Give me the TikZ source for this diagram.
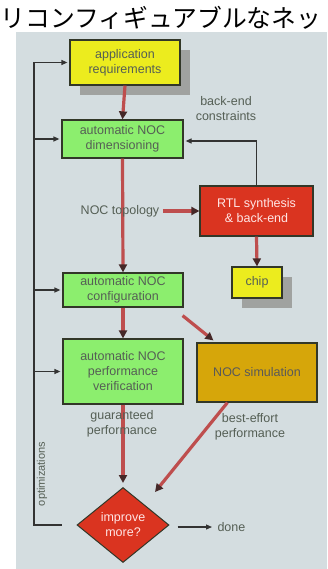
\documentclass[tikz,border=0pt]{standalone}
\usepackage{fontspec}
\setmainfont{Liberation Sans}
\newfontfamily\jpfont{Noto Sans CJK JP}
\usetikzlibrary{arrows.meta,shapes.geometric,shadows,calc}
\definecolor{slidebg}{RGB}{212,221,224}
\definecolor{boxyellow}{RGB}{236,236,30}
\definecolor{boxgreen}{RGB}{140,238,110}
\definecolor{boxred}{RGB}{218,52,32}
\definecolor{boxorange}{RGB}{214,166,10}
\definecolor{boxedge}{RGB}{50,55,40}
\definecolor{arrowred}{RGB}{190,78,78}
\definecolor{arrowdark}{RGB}{70,40,40}
\definecolor{shadowc}{RGB}{160,162,160}
\definecolor{txtgray}{RGB}{85,95,85}
\begin{document}
\begin{tikzpicture}[x=1pt,y=-1pt,
  txt/.style={font=\fontsize{12.5}{15}\selectfont, align=center, text=txtgray},
  box/.style={draw=boxedge, line width=1.2pt, rectangle, inner sep=1pt, txt},
  shd/.style={drop shadow={shadow xshift=10pt, shadow yshift=-10pt, fill=shadowc, opacity=1}},
  bigarrow/.style={draw=arrowred, line width=3.2pt, -{Triangle[length=8pt,width=8pt,fill=arrowdark,color=arrowdark]}},
  fb/.style={draw=black!80, line width=1.2pt},
  fbarrow/.style={fb, -{Triangle[length=6pt,width=5pt]}, shorten >=2pt}]
\useasboundingbox (0,0) rectangle (327,569);
\fill[white] (0,0) rectangle (327,569);
\fill[slidebg] (16,32) rectangle (327,569);
\node[anchor=west, inner sep=0, font=\jpfont\fontsize{24.8}{24.8}\selectfont] (title) at (0.5,17.5) {リコンフィギュアブルなネッ};

% boxes
\node[box, shd, fill=boxyellow, minimum width=110pt, minimum height=45pt] (app) at (125,62.5) {application\\requirements};
\node[box, fill=boxgreen, minimum width=121pt, minimum height=38pt] (dim) at (122.5,139) {automatic NOC\\dimensioning};
\node[box, fill=boxred, text=white!90!red, minimum width=113pt, minimum height=50pt] (rtl) at (256.5,211) {RTL synthesis\\\& back-end};
\node[box, shd, fill=boxyellow, minimum width=50pt, minimum height=31pt] (chip) at (257,282.5) {chip};
\node[box, fill=boxgreen, minimum width=120pt, minimum height=34pt] (conf) at (123,290) {automatic NOC\\configuration};
\node[box, fill=boxgreen, minimum width=120pt, minimum height=65pt] (verif) at (123,371.5) {automatic NOC\\performance\\verification};
\node[box, fill=boxorange, text=black!65, minimum width=120pt, minimum height=59pt] (sim) at (257,372.5) {NOC simulation};
\node[diamond, draw=boxedge, line width=1pt, fill=boxred, txt, text=white!90!red, minimum width=92pt, minimum height=75pt, inner sep=0pt] (diam) at (123,525) {improve\\more?};

% feedback line on the left
\coordinate (fbstart) at ($(diam.west)+(-15,0)$);
\coordinate (L) at (34,525);
\draw[fb] (fbstart) -- (L) -- (L |- app.west);
\draw[fbarrow] (L |- app.west) -- (app.west);
\draw[fbarrow] (L |- dim.west) -- (dim.west);
\draw[fbarrow] (L |- conf.west) -- (conf.west);
\draw[fbarrow] (L |- verif.west) -- (verif.west);
\node[txt, rotate=90, font=\fontsize{11}{13}\selectfont] (opt) at (42,474) {optimizations};

% back-end constraints feedback
\draw[fbarrow] (rtl.north) |- ($(dim.east)+(0,2)$);
\node[txt] (bec) at (226,109) {back-end\\constraints};

% main thick arrows
\draw[bigarrow] (app.south) -- (dim.north);
\draw[bigarrow] (dim.south) -- (conf.north);
\draw[bigarrow] (rtl.south) -- (chip.north);
\draw[bigarrow] (conf.south) -- (verif.north);
\coordinate (c1) at ($(conf.south east)+(-1,8)$);
\coordinate (c2) at ($(sim.north west)+(17,-2)$);
\draw[bigarrow] (c1) -- (c2);
\draw[bigarrow] (verif.south) -- ($(diam.north)+(0,-4)$);
\coordinate (s1) at ($(sim.south west)+(31,0)$);
\coordinate (s2) at (155,492);
\draw[bigarrow] (s1) -- (s2);

\node[txt] (topo) at (120,211) {NOC topology};
\draw[bigarrow] (topo.east) -- (rtl.west);

\node[txt] (guar) at (122,424) {guaranteed\\performance};
\node[txt] (best) at (250,427) {best-effort\\performance};

\node[txt, anchor=west] (done) at (214,527) {done};
\draw[fbarrow] ($(diam.east)+(8,2)$) -- (done.west);
\end{tikzpicture}
\end{document}
